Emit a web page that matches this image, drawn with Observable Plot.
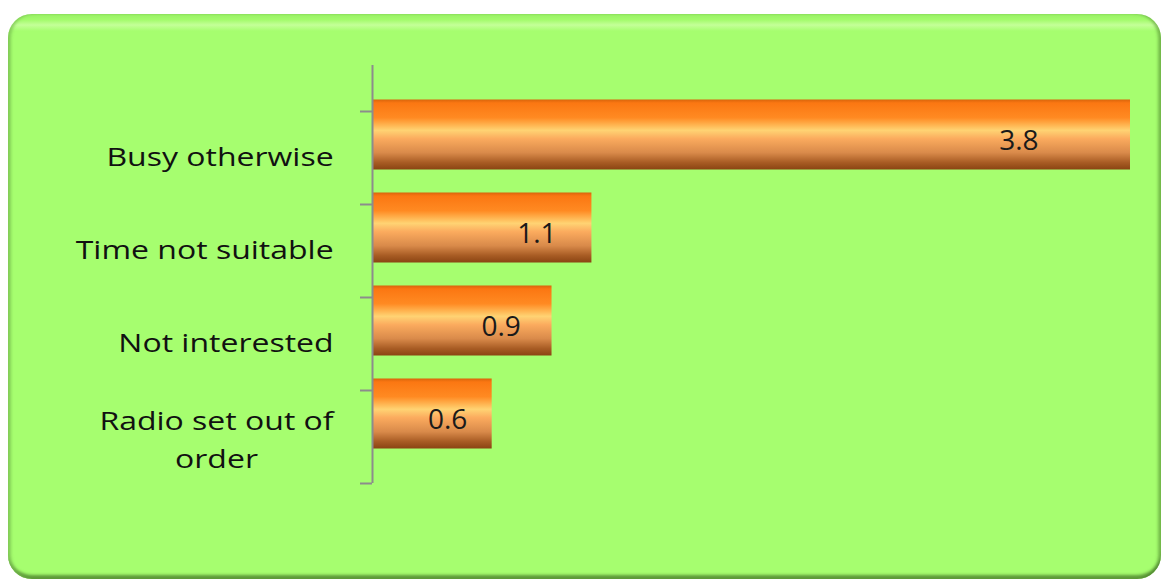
<!DOCTYPE html>
<html>
<head>
<meta charset="utf-8">
<script src="https://cdn.jsdelivr.net/npm/d3@7"></script>
<script src="https://cdn.jsdelivr.net/npm/@observablehq/plot@0.6"></script>
<style>
  html, body { margin: 0; padding: 0; background: #ffffff; }
  #wrap { position: relative; width: 1164px; height: 582px; overflow: hidden; }
  #panel {
    position: absolute; left: 8px; top: 14px; width: 1153px; height: 565px;
    border-radius: 24px;
    background: linear-gradient(to bottom, #98f065 0px, #a4fb6d 6px, #c4ff98 11px, #a6fe6f 17px, #a6fe6f 100%);
    box-shadow: inset 4px 0 3px -1px rgba(120,190,80,0.7), inset 0 -5px 3px -1px rgba(70,120,40,0.75), inset -4px 0 3px -1px rgba(90,150,55,0.6);
  }
  #chart { position: absolute; left: 0; top: 0; }
</style>
</head>
<body>
<div id="wrap"><div id="panel"></div><div id="chart"></div></div>
<script>
const categories = ["Busy otherwise", "Time not suitable", "Not interested", "Radio set out of order"];
const values = [3.8, 1.1, 0.9, 0.6];
const wrapped = {"Radio set out of order": "Radio set out of\norder"};

const data = categories.map((c, i) => ({category: c, value: values[i]}));
const FONT = "Open Sans";
const labelSize = 25;

const cv = document.createElement("canvas").getContext("2d");
cv.font = `${labelSize}px "${FONT}"`;
const lineW = s => Math.max(...s.split("\n").map(l => cv.measureText(l).width));

const single = categories.filter(c => !wrapped[c]);
const multi = categories.filter(c => wrapped[c]);

const chart = Plot.plot({
  width: 1164, height: 582,
  marginLeft: 372, marginRight: 34, marginTop: 65, marginBottom: 99,
  style: {background: "transparent", fontFamily: FONT, overflow: "visible"},
  x: {domain: [0, 3.8], axis: null},
  y: {domain: categories, range: [111, 483], padding: 0, axis: null},
  marks: [
    Plot.barX(data, {x: "value", y: "category", fill: "url(#barGrad)", insetTop: 11.5, insetBottom: 11.5, dy: -23}),
    Plot.ruleX([0], {stroke: "#8c8c8c", strokeWidth: 2}),
    Plot.ruleY(categories, {y: d => d, x1: 0, x2: 0, insetLeft: -12, dy: -46.5, stroke: "#8c8c8c", strokeWidth: 2}),
    Plot.ruleY(categories.slice(-1), {y: d => d, x1: 0, x2: 0, insetLeft: -12, dy: 46.5, stroke: "#8c8c8c", strokeWidth: 2}),
    Plot.text(data, {x: d => d.value * 0.895, y: "category", text: d => d.value.toFixed(1), dx: -32, dy: -17, fontSize: 28, fill: "#1a1a1a"}),
    Plot.text(single, {y: d => d, frameAnchor: "left", textAnchor: "end", dx: -39, text: d => d, fontSize: labelSize, fill: "#111"}),
    ...multi.map(c => Plot.text([c], {y: d => d, frameAnchor: "left", textAnchor: "middle", dx: -39 - lineW(wrapped[c]) / 2, text: d => wrapped[d], lineHeight: 1.52, fontSize: labelSize, fill: "#111"}))
  ]
});

const ns = "http://www.w3.org/2000/svg";
const defs = document.createElementNS(ns, "defs");
defs.innerHTML = `<linearGradient id="barGrad" x1="0" y1="0" x2="0" y2="1">
  <stop offset="0" stop-color="#d9650c"/>
  <stop offset="0.05" stop-color="#fb7712"/>
  <stop offset="0.26" stop-color="#ff8a22"/>
  <stop offset="0.44" stop-color="#ffd373"/>
  <stop offset="0.56" stop-color="#fbab5e"/>
  <stop offset="0.76" stop-color="#d98a4a"/>
  <stop offset="0.9" stop-color="#a85c24"/>
  <stop offset="1" stop-color="#8a4412"/>
</linearGradient>`;
chart.insertBefore(defs, chart.firstChild);

document.getElementById("chart").appendChild(chart);

// stretch category labels horizontally about their right edge
const texts = Array.from(chart.querySelectorAll('g[aria-label="text"]')).slice(1);
const anchorX = 372 - 39;
const sx = 1.28;
const g = document.createElementNS(ns, "g");
g.setAttribute("transform", `translate(${anchorX},0) scale(${sx},1) translate(${-anchorX},0)`);
chart.appendChild(g);
texts.forEach(t => g.appendChild(t));
</script>
</body>
</html>
